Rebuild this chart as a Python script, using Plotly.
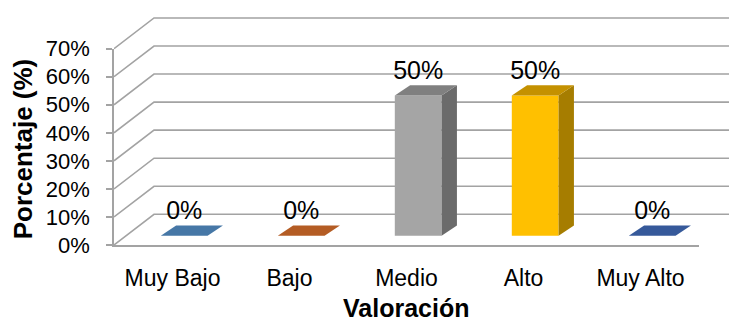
import plotly.graph_objects as go

# ---- data ----
categories = ["Muy Bajo", "Bajo", "Medio", "Alto", "Muy Alto"]
values = [0.0, 0.0, 0.5, 0.5, 0.0]
y_tick_values = [0.0, 0.1, 0.2, 0.3, 0.4, 0.5, 0.6, 0.7]
y_tick_labels = ["0%", "10%", "20%", "30%", "40%", "50%", "60%", "70%"]

# ---- styles ----
front_colors = ["#4a7aab", "#bb5e25", "#a5a5a5", "#ffc000", "#3a5da0"]
side_colors = ["#3b6289", "#964b1d", "#6b6b6b", "#a67d00", "#2e4a80"]
top_colors = ["#4677a6", "#b45c24", "#808080", "#c49100", "#36599a"]
grid_color = "#a3a3a3"
FONT = "Liberation Sans, Arial, sans-serif"

# 3-D geometry (in axis units)
BAR_SHIFT = 0.10
BAR_W = 0.40
FLOOR = 0.033
DEPTH_X = 0.131
DEPTH_Y = 0.0364
WALL_X = 0.342
WALL_Y = 0.1094

W, H = 729, 322
ML, MR, MT, MB = 114, 0, 10, 77
PX_X = 117.0
PX_Y = 282.9
x_lo = -0.5
x_hi = x_lo + (W - ML - MR) / PX_X
y_hi = (H - MT - MB) / PX_Y
n = len(categories)

fig = go.Figure()

# back wall gridlines + side diagonals
gx, gy = [], []
for v in y_tick_values:
    gx += [x_lo, x_lo + WALL_X, x_hi + 1, None]
    gy += [v, v + WALL_Y, v + WALL_Y, None]
fig.add_trace(go.Scatter(x=gx, y=gy, mode="lines",
                         line=dict(color=grid_color, width=1.6),
                         hoverinfo="skip", showlegend=False))

# bars: front, side, top faces
for i, (v, fc, sc, tc) in enumerate(zip(values, front_colors, side_colors, top_colors)):
    x0 = i + BAR_SHIFT - BAR_W / 2
    x1 = i + BAR_SHIFT + BAR_W / 2
    b = FLOOR
    t = v + FLOOR
    if v > 0:
        fig.add_trace(go.Scatter(x=[x0, x1, x1, x0, x0], y=[b, b, t, t, b],
                                 fill="toself", fillcolor=fc, mode="lines",
                                 line=dict(width=0), hoverinfo="skip", showlegend=False))
        fig.add_trace(go.Scatter(x=[x1, x1 + DEPTH_X, x1 + DEPTH_X, x1, x1],
                                 y=[b, b + DEPTH_Y, t + DEPTH_Y, t, b],
                                 fill="toself", fillcolor=sc, mode="lines",
                                 line=dict(width=0), hoverinfo="skip", showlegend=False))
    fig.add_trace(go.Scatter(x=[x0, x1, x1 + DEPTH_X, x0 + DEPTH_X, x0],
                             y=[t, t, t + DEPTH_Y, t + DEPTH_Y, t],
                             fill="toself", fillcolor=tc, mode="lines",
                             line=dict(width=0), hoverinfo="skip", showlegend=False))

# data labels (front-plane subplot shares the same scale)
fig.add_trace(go.Scatter(
    x=[i + BAR_SHIFT for i in range(n)],
    y=[v + FLOOR + DEPTH_Y for v in values],
    text=[f"{round(v * 100)}%" for v in values],
    mode="text", textposition="top center",
    textfont=dict(family=FONT, size=25, color="#000000"),
    cliponaxis=False, hoverinfo="skip", showlegend=False,
    xaxis="x2", yaxis="y2"))

fig.update_layout(
    width=W, height=H,
    margin=dict(l=ML, r=MR, t=MT, b=MB),
    paper_bgcolor="white", plot_bgcolor="rgba(0,0,0,0)",
    showlegend=False,
    xaxis=dict(range=[x_lo, x_hi], visible=False, domain=[0, 1]),
    yaxis=dict(range=[0, y_hi], visible=False, domain=[0, 1]),
    xaxis2=dict(range=[-0.5, n - 0.5], anchor="y2",
                domain=[0, (n * PX_X) / (W - ML - MR)],
                showline=True, linecolor=grid_color, linewidth=1.6,
                showgrid=False, zeroline=False, ticks="",
                tickmode="array", tickvals=list(range(n)), ticktext=categories,
                tickfont=dict(family=FONT, size=23, color="#000000"),
                ticklabelstandoff=12),
    yaxis2=dict(range=[0, 0.7], anchor="x2",
                domain=[0, 0.7 / y_hi],
                showline=True, linecolor=grid_color, linewidth=1.6,
                showgrid=False, zeroline=False,
                ticks="outside", ticklen=6, tickcolor=grid_color, tickwidth=1.6,
                tickmode="array", tickvals=y_tick_values, ticktext=y_tick_labels,
                tickfont=dict(family=FONT, size=22, color="#000000"),
                ticklabelstandoff=12),
    annotations=[
        dict(text="<b>Porcentaje (%)</b>", textangle=-90, xref="paper", yref="paper",
             x=(22.5 - ML) / (W - ML - MR), y=(H - MB - 148) / (H - MT - MB),
             xanchor="center", yanchor="middle", showarrow=False,
             font=dict(family=FONT, size=26, color="#000000")),
        dict(text="<b>Valoración</b>", xref="paper", yref="paper",
             x=(406 - ML) / (W - ML - MR), y=(H - MB - 309) / (H - MT - MB),
             xanchor="center", yanchor="middle", showarrow=False,
             font=dict(family=FONT, size=25, color="#000000")),
    ],
)

fig.write_html("out.html")
